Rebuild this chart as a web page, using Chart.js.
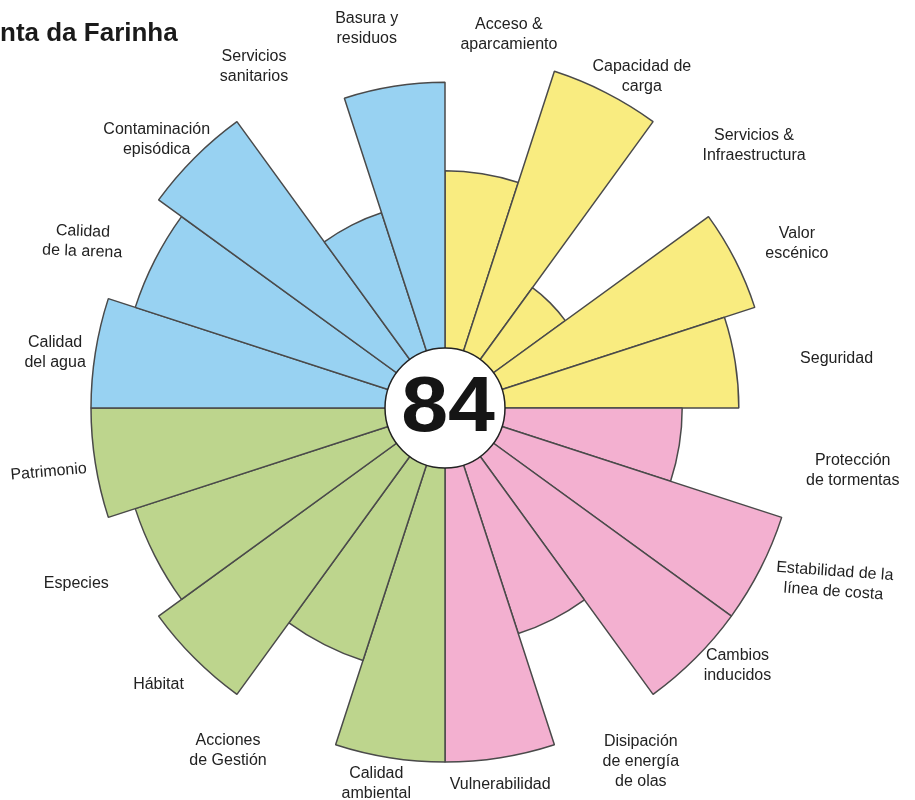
<!DOCTYPE html>
<html>
<head>
<meta charset="utf-8">
<script src="https://cdn.jsdelivr.net/npm/chart.js@4.4.1/dist/chart.umd.min.js"></script>
<style>
    html, body { margin: 0; padding: 0; background: #fff; overflow: hidden; }
    #wrap { position: relative; width: 915px; height: 800px; }
</style>
</head>
<body>
<div id="wrap"><canvas id="chart" width="915" height="800"></canvas></div>
<script>
// clockwise from 12 o'clock
const categories = [
    ["Acceso &", "aparcamiento"],
    ["Capacidad de", "carga"],
    ["Servicios &", "Infraestructura"],
    ["Valor", "escénico"],
    ["Seguridad"],
    ["Protección", "de tormentas"],
    ["Estabilidad de la", "línea de costa"],
    ["Cambios", "inducidos"],
    ["Disipación", "de energía", "de olas"],
    ["Vulnerabilidad"],
    ["Calidad", "ambiental"],
    ["Acciones", "de Gestión"],
    ["Hábitat"],
    ["Especies"],
    ["Patrimonio"],
    ["Calidad", "del agua"],
    ["Calidad", "de la arena"],
    ["Contaminación", "episódica"],
    ["Servicios", "sanitarios"],
    ["Basura y", "residuos"]
];
const scores = [67, 100, 42, 92, 83, 67, 100, 100, 67, 100, 100, 75, 100, 92, 100, 100, 92, 100, 58, 92];
const groupOf = [0, 0, 0, 0, 0, 1, 1, 1, 1, 1, 2, 2, 2, 2, 2, 3, 3, 3, 3, 3];
const groupColors = ["#f9ec80", "#f3b0d0", "#bdd58d", "#98d2f2"];
const totalScore = "84";
const titleText = "nta da Farinha";

// hand placement of the labels in the source: [dx, dy, rotation in degrees]
const labelNudge = [
    [0, 2, 0], [11, 7, 0], [18, 6, 0], [3, 8, 0], [0, 8, 0],
    [6, 3, 0], [16, 1, 4], [14, -11, 0], [15, 6, 0], [-9, 11, 0],
    [-7, 0, 0], [-36, 4, 0], [-14, 15, 0], [-19, 8, 0], [-3, 6, -5],
    [-4, 4, 0], [-6, 6, 2], [4, 0, 0], [-12, -3, 0], [-17, -4, 0]
];

const hubRadius = 60;
const labelGap = 6;
const lineH = 20;

const decorPlugin = {
    id: 'decor',
    afterDatasetsDraw(chart) {
        const scale = chart.scales.r;
        const ctx = chart.ctx;
        const cx = scale.xCenter, cy = scale.yCenter;
        ctx.save();

        // white hub with the total
        ctx.beginPath();
        ctx.arc(cx, cy, hubRadius, 0, Math.PI * 2);
        ctx.fillStyle = '#fff';
        ctx.fill();
        ctx.lineWidth = 1.5;
        ctx.strokeStyle = '#222';
        ctx.stroke();
        ctx.save();
        ctx.translate(cx + 3, cy);
        ctx.scale(1.08, 1);
        ctx.fillStyle = '#151515';
        ctx.font = 'bold 78px "Liberation Sans", Arial, sans-serif';
        ctx.textAlign = 'center';
        ctx.textBaseline = 'middle';
        ctx.fillText(totalScore, 0, 1);
        ctx.restore();

        // category labels
        const n = categories.length;
        ctx.font = '16px "Liberation Sans", Arial, sans-serif';
        ctx.fillStyle = '#222';
        ctx.textAlign = 'center';
        ctx.textBaseline = 'middle';
        for (let i = 0; i < n; i++) {
            const lines = categories[i];
            const p = scale.getPointPosition(i, scale.drawingArea + labelGap, Math.PI / n);
            let w = 0;
            lines.forEach(l => { w = Math.max(w, ctx.measureText(l).width); });
            const h = lines.length * lineH;
            const nudge = labelNudge[i];
            const bx = p.x + Math.cos(p.angle) * w / 2 + nudge[0];
            const by = p.y + Math.sin(p.angle) * h / 2 + nudge[1];
            ctx.save();
            ctx.translate(bx, by);
            ctx.rotate(nudge[2] * Math.PI / 180);
            lines.forEach((l, k) => {
                ctx.fillText(l, 0, -h / 2 + lineH / 2 + k * lineH);
            });
            ctx.restore();
        }

        // title (cut at the left edge like the source)
        ctx.textAlign = 'left';
        ctx.textBaseline = 'alphabetic';
        ctx.font = 'bold 26px "Liberation Sans", Arial, sans-serif';
        ctx.fillStyle = '#1a1a1a';
        ctx.fillText(titleText, 0, 41);
        ctx.restore();
    }
};

const ctx = document.getElementById('chart').getContext('2d');
new Chart(ctx, {
    type: 'polarArea',
    data: {
        labels: categories,
        datasets: [{
            data: scores,
            backgroundColor: groupOf.map(g => groupColors[g]),
            borderColor: '#4a4a4a',
            borderWidth: 1.5
        }]
    },
    plugins: [decorPlugin],
    options: {
        responsive: false,
        animation: false,
        layout: { padding: { left: 91, right: 116, top: 54, bottom: 38 } },
        plugins: {
            legend: { display: false },
            tooltip: { enabled: false }
        },
        scales: {
            r: {
                min: 0,
                max: 100,
                ticks: { display: false },
                grid: { display: false },
                angleLines: { display: false },
                pointLabels: { display: false }
            }
        }
    }
});
</script>
</body>
</html>
